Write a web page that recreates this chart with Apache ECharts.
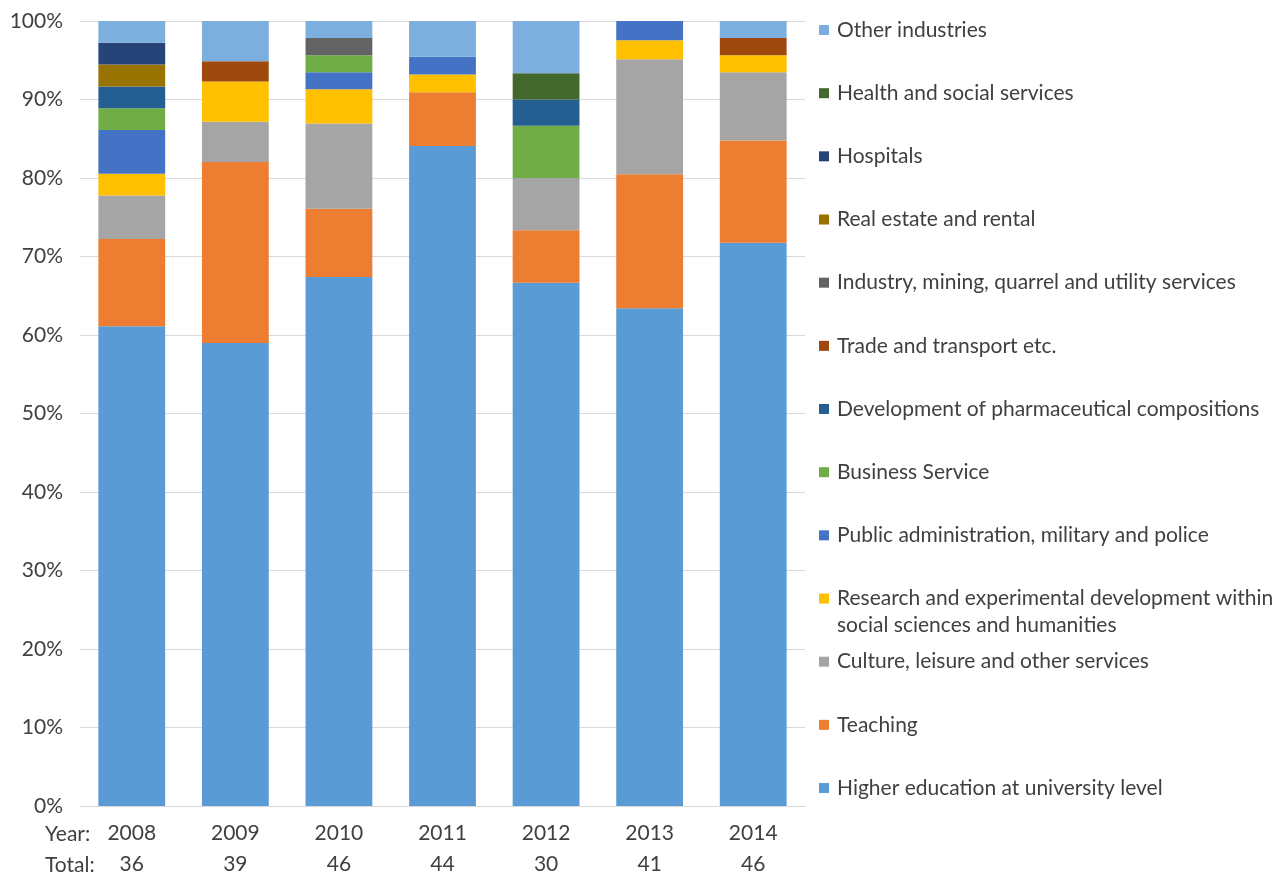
<!DOCTYPE html>
<html>
<head>
<meta charset="utf-8">
<script src="https://cdn.jsdelivr.net/npm/echarts@6/dist/echarts.min.js"></script>
<style>html,body{margin:0;padding:0;background:#fff;}#c{width:1277px;height:872px;}</style>
</head>
<body>
<div id="c"></div>
<script>
const years = ['2008','2009','2010','2011','2012','2013','2014'];
const totals = [36, 39, 46, 44, 30, 41, 46];
const yTicks = ['0%','10%','20%','30%','40%','50%','60%','70%','80%','90%','100%'];

// counts per year (shares of each year's total)
const higherEducation = [22, 23, 31, 37, 20, 26, 33];
const teaching        = [4, 9, 4, 3, 2, 7, 6];
const culture         = [2, 2, 5, 0, 2, 6, 4];
const research        = [1, 2, 2, 1, 0, 1, 1];
const publicAdmin     = [2, 0, 1, 1, 0, 1, 0];
const businessService = [1, 0, 1, 0, 2, 0, 0];
const pharma          = [1, 0, 0, 0, 1, 0, 0];
const tradeTransport  = [0, 1, 0, 0, 0, 0, 1];
const industry        = [0, 0, 1, 0, 0, 0, 0];
const realEstate      = [1, 0, 0, 0, 0, 0, 0];
const hospitals       = [1, 0, 0, 0, 0, 0, 0];
const healthSocial    = [0, 0, 0, 0, 1, 0, 0];
const otherIndustries = [1, 2, 1, 2, 2, 0, 1];

const seriesNames = [
  'Higher education at university level',
  'Teaching',
  'Culture, leisure and other services',
  'Research and experimental development within social sciences and humanities',
  'Public administration, military and police',
  'Business Service',
  'Development of pharmaceutical compositions',
  'Trade and transport etc.',
  'Industry, mining, quarrel and utility services',
  'Real estate and rental',
  'Hospitals',
  'Health and social services',
  'Other industries'
];
const seriesData = [higherEducation, teaching, culture, research, publicAdmin, businessService,
  pharma, tradeTransport, industry, realEstate, hospitals, healthSocial, otherIndustries];
const colors = ['#5B9BD5','#ED7D31','#A5A5A5','#FFC000','#4472C4','#70AD47',
  '#255E91','#9E480E','#636363','#997300','#264478','#43682B','#7CAFDD'];

const FONT = 'Lato';
const TXT = '#404040';
const FS = 21;

const chart = echarts.init(document.getElementById('c'));
chart.setOption({
  animation: false,
  color: colors,
  textStyle: { fontFamily: FONT },
  grid: { left: 80, right: 472, top: 21, bottom: 66, containLabel: false, outerBoundsMode: 'none' },
  xAxis: {
    type: 'category',
    data: years,
    axisLine: { lineStyle: { color: '#D9D9D9', width: 1 } },
    axisTick: { show: false },
    axisLabel: {
      margin: 12,
      formatter: function (v, i) { return '{y|' + v + '}\n{t|' + totals[i] + '}'; },
      rich: {
        y: { fontSize: FS, color: TXT, fontFamily: FONT, lineHeight: 31 },
        t: { fontSize: FS, color: TXT, fontFamily: FONT, lineHeight: 31 }
      }
    }
  },
  yAxis: {
    type: 'value',
    min: 0, max: 100, interval: 10,
    axisLine: { show: false },
    axisTick: { show: false },
    splitLine: { lineStyle: { color: '#D9D9D9', width: 1 } },
    axisLabel: {
      margin: 17,
      fontSize: FS, color: TXT, fontFamily: FONT,
      formatter: function (v) { return yTicks[Math.round(v / 10)]; }
    }
  },
  legend: {
    orient: 'vertical',
    left: 814,
    top: 14,
    itemWidth: 10,
    itemHeight: 10,
    itemGap: 41.17,
    icon: 'rect',
    data: seriesNames.slice().reverse(),
    formatter: function (n) {
      return n.indexOf('Research and experimental') === 0 ? 'Research and experimental development within' : n;
    },
    textStyle: { fontSize: FS, color: TXT, fontFamily: FONT, lineHeight: 22, padding: [0, 0, 0, 3] }
  },
  graphic: [
    { type: 'text', left: 45, top: 824, style: { text: 'Year:', font: FS + 'px ' + FONT, fill: TXT } },
    { type: 'text', left: 45, top: 855, style: { text: 'Total:', font: FS + 'px ' + FONT, fill: TXT } },
    { type: 'text', left: 837, top: 615, style: { text: 'social sciences and humanities', font: FS + 'px ' + FONT, fill: TXT } }
  ],
  series: seriesNames.map(function (name, k) {
    return {
      name: name,
      type: 'bar',
      stack: 'share',
      barWidth: '64.5%',
      data: seriesData[k].map(function (c, i) { return c / totals[i] * 100; }),
      itemStyle: { color: colors[k] }
    };
  })
});
</script>
</body>
</html>
